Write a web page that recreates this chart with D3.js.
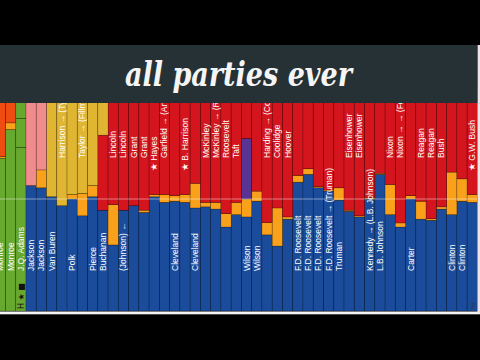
<!DOCTYPE html>
<html>
<head>
<meta charset="utf-8">
<script src="https://cdn.jsdelivr.net/npm/d3@7"></script>
<style>
html, body { margin: 0; padding: 0; background: #000; overflow: hidden; }
</style>
</head>
<body>
<div id="chart"></div>
<script>
// elections 1816 - 2000, share of the popular vote
var years = [1816, 1820, 1824, 1828, 1832, 1836, 1840, 1844, 1848, 1852, 1856, 1860, 1864, 1868, 1872, 1876,
  1880, 1884, 1888, 1892, 1896, 1900, 1904, 1908, 1912, 1916, 1920, 1924, 1928, 1932, 1936, 1940, 1944,
  1948, 1952, 1956, 1960, 1964, 1968, 1972, 1976, 1980, 1984, 1988, 1992, 1996, 2000];

var winners = ['Monroe', 'Monroe', 'J.Q. Adams', 'Jackson', 'Jackson', 'Van Buren', 'Harrison → (Tyler)', 'Polk',
  'Taylor → (Fillmore)', 'Pierce', 'Buchanan', 'Lincoln', 'Lincoln', 'Grant', 'Grant', '★ Hayes',
  'Garfield → (Arthur)', 'Cleveland', '★ B. Harrison', 'Cleveland', 'McKinley', 'McKinley → (Roosevelt)',
  'Roosevelt', 'Taft', 'Wilson', 'Wilson', 'Harding → (Coolidge)', 'Coolidge', 'Hoover', 'F.D. Roosevelt',
  'F.D. Roosevelt', 'F.D. Roosevelt', 'F.D. Roosevelt → (Truman)', 'Truman', 'Eisenhower', 'Eisenhower',
  'Kennedy → (L.B. Johnson)', 'L.B. Johnson', 'Nixon', 'Nixon → → (Ford)', 'Carter', 'Reagan', 'Reagan', 'Bush',
  'Clinton', 'Clinton', '★ G.W. Bush'];

var winnerParty = ['DR', 'DR', 'DR', 'D', 'D', 'D', 'W', 'D', 'W', 'D', 'D', 'R', 'R', 'R', 'R', 'R',
  'R', 'D', 'R', 'D', 'R', 'R', 'R', 'R', 'D', 'D', 'R', 'R', 'R', 'D', 'D', 'D', 'D',
  'D', 'R', 'R', 'D', 'D', 'R', 'R', 'D', 'R', 'R', 'R', 'D', 'D', 'R'];

var demRep    = [0.682, 0.81, 0.73, 0, 0, 0, 0, 0, 0, 0, 0, 0, 0, 0, 0, 0, 0, 0, 0, 0, 0, 0, 0, 0, 0, 0, 0, 0, 0, 0, 0, 0, 0, 0, 0, 0, 0, 0, 0, 0, 0, 0, 0, 0, 0, 0, 0];
var demRepB   = [0, 0, 0.13, 0, 0, 0, 0, 0, 0, 0, 0, 0, 0, 0, 0, 0, 0, 0, 0, 0, 0, 0, 0, 0, 0, 0, 0, 0, 0, 0, 0, 0, 0, 0, 0, 0, 0, 0, 0, 0, 0, 0, 0, 0, 0, 0, 0];
var demRepC   = [0, 0, 0.14, 0, 0, 0, 0, 0, 0, 0, 0, 0, 0, 0, 0, 0, 0, 0, 0, 0, 0, 0, 0, 0, 0, 0, 0, 0, 0, 0, 0, 0, 0, 0, 0, 0, 0, 0, 0, 0, 0, 0, 0, 0, 0, 0, 0];
var democratic = [0, 0, 0, 0.56, 0.55, 0.51, 0.47, 0.50, 0.425, 0.51, 0.45, 0.295, 0.45, 0.47, 0.44, 0.51,
  0.485, 0.49, 0.485, 0.46, 0.465, 0.455, 0.375, 0.43, 0.42, 0.49, 0.34, 0.29, 0.41, 0.575, 0.61, 0.55, 0.535,
  0.495, 0.445, 0.42, 0.50, 0.61, 0.43, 0.375, 0.50, 0.41, 0.405, 0.455, 0.43, 0.49, 0.485];
var other = [0.008, 0.03, 0, 0, 0.08, 0, 0, 0.02, 0.10, 0.05, 0, 0.18, 0, 0, 0.01, 0.01,
  0.035, 0.025, 0.035, 0.11, 0.02, 0.03, 0.06, 0.055, 0.08, 0.045, 0.055, 0.17, 0.01, 0.03, 0.025, 0.005, 0.005,
  0.055, 0.005, 0.005, 0.005, 0.005, 0.135, 0.018, 0.015, 0.08, 0.007, 0.01, 0.19, 0.10, 0.035];
var progressive = [0, 0, 0, 0, 0, 0, 0, 0, 0, 0, 0, 0, 0, 0, 0, 0, 0, 0, 0, 0, 0, 0, 0, 0, 0.27, 0, 0, 0, 0, 0, 0, 0, 0, 0, 0, 0, 0, 0, 0, 0, 0, 0, 0, 0, 0, 0, 0];
var republican = [0, 0, 0, 0, 0, 0, 0, 0, 0, 0, 0.335, 0.525, 0.55, 0.53, 0.55, 0.48,
  0.48, 0.485, 0.48, 0.43, 0.515, 0.515, 0.565, 0.515, 0.23, 0.465, 0.605, 0.54, 0.58, 0.395, 0.365, 0.445, 0.46,
  0.45, 0.55, 0.575, 0.495, 0.385, 0.435, 0.607, 0.485, 0.51, 0.588, 0.535, 0.38, 0.41, 0.48];
var whig = [0, 0, 0, 0, 0, 0.49, 0.53, 0.48, 0.475, 0.44, 0.215, 0, 0, 0, 0, 0, 0, 0, 0, 0, 0, 0, 0, 0, 0, 0, 0, 0, 0, 0, 0, 0, 0, 0, 0, 0, 0, 0, 0, 0, 0, 0, 0, 0, 0, 0, 0];
var nationalRep = [0, 0, 0, 0.44, 0.37, 0, 0, 0, 0, 0, 0, 0, 0, 0, 0, 0, 0, 0, 0, 0, 0, 0, 0, 0, 0, 0, 0, 0, 0, 0, 0, 0, 0, 0, 0, 0, 0, 0, 0, 0, 0, 0, 0, 0, 0, 0, 0];
var federalist = [0.31, 0.16, 0, 0, 0, 0, 0, 0, 0, 0, 0, 0, 0, 0, 0, 0, 0, 0, 0, 0, 0, 0, 0, 0, 0, 0, 0, 0, 0, 0, 0, 0, 0, 0, 0, 0, 0, 0, 0, 0, 0, 0, 0, 0, 0, 0, 0];

var keys = ['demRep', 'demRepB', 'demRepC', 'democratic', 'other', 'progressive', 'republican', 'whig', 'nationalRep', 'federalist'];
var colors = {
  demRep: '#67a82f', demRepB: '#67a82f', demRepC: '#67a82f',
  democratic: '#1a4c9b', other: '#f9a11b', progressive: '#5a3494',
  republican: '#d5151e', whig: '#dfb532', nationalRep: '#f28b8b', federalist: '#ef4c12'
};

var series = {demRep: demRep, demRepB: demRepB, demRepC: demRepC, democratic: democratic, other: other,
  progressive: progressive, republican: republican, whig: whig, nationalRep: nationalRep, federalist: federalist};

var rows = years.map(function(y, i) {
  var r = {year: y};
  keys.forEach(function(k) { r[k] = series[k][i]; });
  return r;
});

var w = 480, h = 360;
var svg = d3.select('#chart').append('svg')
  .attr('width', w)
  .attr('height', h)
  .style('display', 'block');

svg.append('rect').attr('width', w).attr('height', h).attr('fill', '#000');

var x = d3.scaleBand()
  .domain(years)
  .range([-4.8, 477.4]);
var y = d3.scaleLinear()
  .domain([0, 1])
  .range([311, 87]);

var stacked = d3.stack().keys(keys)(rows);

var chart = svg.append('g');

chart.selectAll('g.layer')
  .data(stacked).enter()
  .append('g')
    .attr('class', 'layer')
    .attr('fill', function(d) { return colors[d.key]; })
  .selectAll('rect')
  .data(function(d) { return d.filter(function(p) { return p[1] - p[0] > 0; }); })
  .enter().append('rect')
    .attr('x', function(d) { return x(d.data.year); })
    .attr('y', function(d) { return y(d[1]); })
    .attr('width', x.bandwidth())
    .attr('height', function(d) { return y(d[0]) - y(d[1]); })
    .attr('stroke', 'rgba(0,0,0,0.28)')
    .attr('stroke-width', 0.7);

// 50% line
chart.append('line')
  .attr('x1', 0).attr('x2', 477)
  .attr('y1', y(0.5)).attr('y2', y(0.5))
  .attr('stroke', 'rgba(255,255,255,0.45)')
  .attr('stroke-width', 1);

// winner labels
chart.selectAll('text.winner')
  .data(winners).enter()
  .append('text')
    .attr('class', 'winner')
    .attr('transform', function(d, i) {
      var top = winnerParty[i] === 'R' || winnerParty[i] === 'W';
      var y0 = top ? (d.charAt(0) === '★' ? 171 : 158) : 271;
      return 'translate(' + (x(years[i]) + x.bandwidth() / 2) + ',' + y0 + ') rotate(-90)';
    })
    .attr('dy', '0.35em')
    .attr('fill', '#fff')
    .attr('font-family', 'Liberation Sans, Arial, sans-serif')
    .attr('font-size', '8.5px')
    .text(function(d) { return d; });

// extra marks
chart.append('text')
  .attr('transform', 'translate(' + (x(1864) + x.bandwidth() / 2) + ',271) rotate(-90)')
  .attr('dy', '0.35em')
  .attr('fill', '#fff')
  .attr('font-family', 'Liberation Sans, Arial, sans-serif')
  .attr('font-size', '8.5px')
  .text('(Johnson) ←');

chart.append('text')
  .attr('transform', 'translate(' + (x(1824) + x.bandwidth() / 2) + ',309) rotate(-90)')
  .attr('dy', '0.35em')
  .attr('fill', '#111')
  .attr('font-family', 'DejaVu Sans, sans-serif')
  .attr('font-size', '8px')
  .text('H ★ ■');

chart.append('text')
  .attr('transform', 'translate(' + (x(2000) + x.bandwidth() / 2 + 1) + ',309) rotate(-90)')
  .attr('dy', '0.35em')
  .attr('fill', '#333')
  .attr('opacity', 0.7)
  .attr('font-family', 'Liberation Sans, Arial, sans-serif')
  .attr('font-size', '6px')
  .text('59');

// bottom white edge and right strip
svg.append('rect').attr('x', 0).attr('y', 311.5).attr('width', w).attr('height', 2.8).attr('fill', '#f4f4f6');
svg.append('rect').attr('x', 477.4).attr('y', 45).attr('width', 3).attr('height', 268).attr('fill', '#efe3e8');

// top black bar and title banner
svg.append('rect').attr('x', 0).attr('y', 0).attr('width', w).attr('height', 45).attr('fill', '#000');
svg.append('rect').attr('x', 0).attr('y', 45).attr('width', 477.4).attr('height', 58).attr('fill', '#263135');

svg.append('text')
  .attr('x', 125)
  .attr('y', 86)
  .attr('fill', '#f5f5f5')
  .attr('font-family', 'DejaVu Serif, Liberation Serif, serif')
  .attr('font-style', 'italic')
  .attr('font-weight', 'bold')
  .attr('font-size', '33px')
  .attr('textLength', 227)
  .attr('lengthAdjust', 'spacingAndGlyphs')
  .text('all parties ever');
</script>
</body>
</html>
